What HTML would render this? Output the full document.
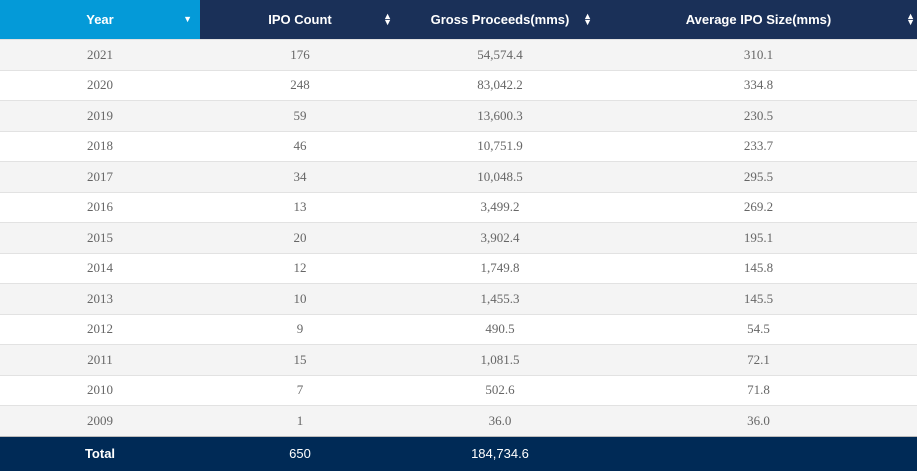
<!DOCTYPE html>
<html><head><meta charset="utf-8"><style>
body{margin:0;width:917px;height:471px;overflow:hidden;background:#fff}
table{border-collapse:collapse;width:917px;table-layout:fixed}
th{height:39px;padding:0;background:#1a3058;color:#fff;font:bold 13px "Liberation Sans",sans-serif;position:relative;text-align:center}
th.y{background:#049ad8}
th span.ic{position:absolute;right:8px;top:13px;font-size:9px;line-height:6px}
td{height:29.5px;line-height:14px;padding:0;border-top:1px solid #e2e2e2;text-align:center;font:13px "Liberation Serif",serif;color:#666}
tr.o td{background:#f4f4f4}
tr.f td{background:#002a56;color:#fff;font:bold 13px "Liberation Sans",sans-serif;height:34px;border-top:1px solid #bbb}
tr.f td.n{font-weight:normal}
</style></head><body>
<table>
<colgroup><col style="width:200px"><col style="width:200px"><col style="width:200px"><col style="width:317px"></colgroup>
<thead><tr>
<th class="y">Year<span class="ic" style="top:16px">▼</span></th>
<th>IPO Count<span class="ic">▲<br>▼</span></th>
<th>Gross Proceeds(mms)<span class="ic">▲<br>▼</span></th>
<th>Average IPO Size(mms)<span class="ic" style="right:2px">▲<br>▼</span></th>
</tr></thead>
<tbody id="tb"></tbody>
</table>
<script>
const years=["2021","2020","2019","2018","2017","2016","2015","2014","2013","2012","2011","2010","2009"];
const counts=["176","248","59","46","34","13","20","12","10","9","15","7","1"];
const gross=["54,574.4","83,042.2","13,600.3","10,751.9","10,048.5","3,499.2","3,902.4","1,749.8","1,455.3","490.5","1,081.5","502.6","36.0"];
const avg=["310.1","334.8","230.5","233.7","295.5","269.2","195.1","145.8","145.5","54.5","72.1","71.8","36.0"];
const tb=document.getElementById('tb');
years.forEach((y,i)=>{
 const tr=document.createElement('tr');
 
 
 if(i%2==0)tr.className='o';
 [y,counts[i],gross[i],avg[i]].forEach((v,j)=>{
  const td=document.createElement('td');
  
  
  td.textContent=v;tr.appendChild(td);
 });
 tb.appendChild(tr);
});
const f=document.createElement('tr');
f.className='f';


f.innerHTML='<td>Total</td><td class="n">650</td><td class="n">184,734.6</td><td></td>';
tb.appendChild(f);
</script>
</body></html>
